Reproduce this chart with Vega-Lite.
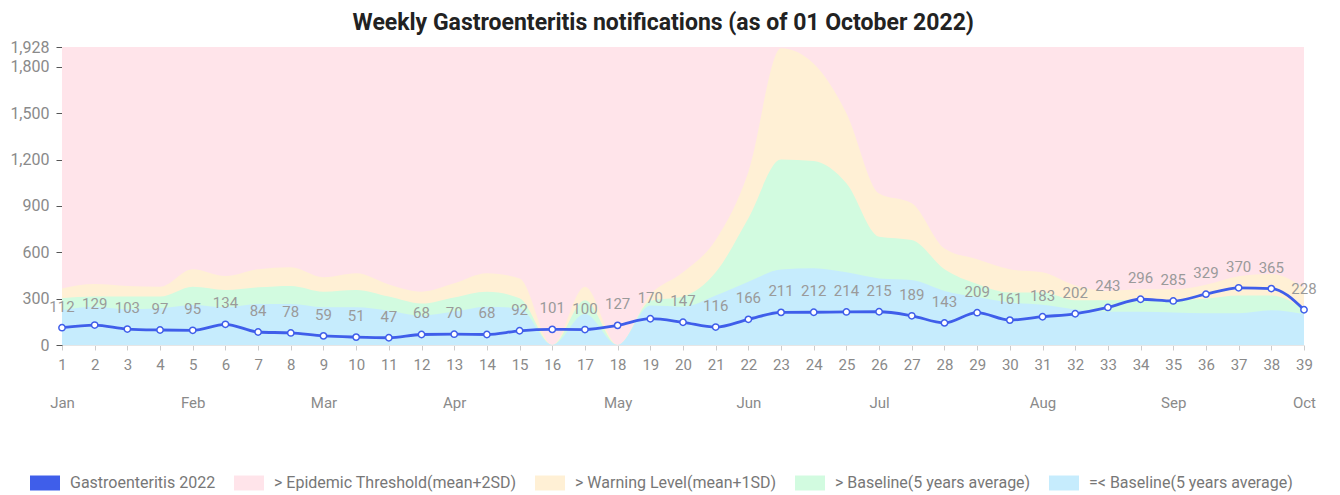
{
  "$schema": "https://vega.github.io/schema/vega-lite/v6.json",
  "autosize": "none",
  "width": 1242,
  "height": 298,
  "padding": {"left": 62, "top": 47, "right": 36, "bottom": 150},
  "background": "#ffffff",
  "title": {
    "text": "Weekly Gastroenteritis notifications (as of 01 October 2022)",
    "font": "Roboto",
    "fontSize": 23,
    "fontWeight": "bold",
    "color": "#222222",
    "anchor": "middle",
    "frame": "bounds",
    "offset": 4
  },
  "data": {
    "values": [
      {"week": 1, "cases": 112, "base": 226, "sd1": 302, "sd2": 366, "top": 1928},
      {"week": 2, "cases": 129, "base": 248, "sd1": 313, "sd2": 394, "top": 1928},
      {"week": 3, "cases": 103, "base": 231, "sd1": 313, "sd2": 381, "top": 1928},
      {"week": 4, "cases": 97, "base": 237, "sd1": 313, "sd2": 377, "top": 1928},
      {"week": 5, "cases": 95, "base": 259, "sd1": 377, "sd2": 490, "top": 1928},
      {"week": 6, "cases": 134, "base": 244, "sd1": 356, "sd2": 446, "top": 1928},
      {"week": 7, "cases": 84, "base": 265, "sd1": 373, "sd2": 490, "top": 1928},
      {"week": 8, "cases": 78, "base": 265, "sd1": 382, "sd2": 503, "top": 1928},
      {"week": 9, "cases": 59, "base": 244, "sd1": 345, "sd2": 438, "top": 1928},
      {"week": 10, "cases": 51, "base": 244, "sd1": 356, "sd2": 464, "top": 1928},
      {"week": 11, "cases": 47, "base": 222, "sd1": 313, "sd2": 392, "top": 1928},
      {"week": 12, "cases": 68, "base": 190, "sd1": 268, "sd2": 345, "top": 1928},
      {"week": 13, "cases": 70, "base": 216, "sd1": 308, "sd2": 399, "top": 1928},
      {"week": 14, "cases": 68, "base": 248, "sd1": 345, "sd2": 464, "top": 1928},
      {"week": 15, "cases": 92, "base": 237, "sd1": 302, "sd2": 431, "top": 1928},
      {"week": 16, "cases": 101, "base": 0, "sd1": 0, "sd2": 0, "top": 1928},
      {"week": 17, "cases": 100, "base": 200, "sd1": 290, "sd2": 377, "top": 1928},
      {"week": 18, "cases": 127, "base": 0, "sd1": 0, "sd2": 0, "top": 1928},
      {"week": 19, "cases": 170, "base": 255, "sd1": 285, "sd2": 325, "top": 1928},
      {"week": 20, "cases": 147, "base": 248, "sd1": 313, "sd2": 470, "top": 1928},
      {"week": 21, "cases": 116, "base": 320, "sd1": 470, "sd2": 680, "top": 1928},
      {"week": 22, "cases": 166, "base": 410, "sd1": 820, "sd2": 1120, "top": 1928},
      {"week": 23, "cases": 211, "base": 488, "sd1": 1200, "sd2": 1920, "top": 1928},
      {"week": 24, "cases": 212, "base": 497, "sd1": 1190, "sd2": 1820, "top": 1928},
      {"week": 25, "cases": 214, "base": 470, "sd1": 1046, "sd2": 1500, "top": 1928},
      {"week": 26, "cases": 215, "base": 431, "sd1": 700, "sd2": 980, "top": 1928},
      {"week": 27, "cases": 189, "base": 420, "sd1": 679, "sd2": 917, "top": 1928},
      {"week": 28, "cases": 143, "base": 350, "sd1": 490, "sd2": 625, "top": 1928},
      {"week": 29, "cases": 209, "base": 310, "sd1": 395, "sd2": 555, "top": 1928},
      {"week": 30, "cases": 161, "base": 275, "sd1": 340, "sd2": 490, "top": 1928},
      {"week": 31, "cases": 183, "base": 260, "sd1": 340, "sd2": 470, "top": 1928},
      {"week": 32, "cases": 202, "base": 230, "sd1": 290, "sd2": 385, "top": 1928},
      {"week": 33, "cases": 243, "base": 215, "sd1": 290, "sd2": 350, "top": 1928},
      {"week": 34, "cases": 296, "base": 215, "sd1": 295, "sd2": 360, "top": 1928},
      {"week": 35, "cases": 285, "base": 210, "sd1": 290, "sd2": 360, "top": 1928},
      {"week": 36, "cases": 329, "base": 205, "sd1": 300, "sd2": 390, "top": 1928},
      {"week": 37, "cases": 370, "base": 205, "sd1": 320, "sd2": 445, "top": 1928},
      {"week": 38, "cases": 365, "base": 225, "sd1": 320, "sd2": 460, "top": 1928},
      {"week": 39, "cases": 228, "base": 200, "sd1": 230, "sd2": 370, "top": 1928}
    ]
  },
  "encoding": {
    "x": {
      "field": "week",
      "type": "quantitative",
      "scale": {"domain": [1, 39], "nice": false, "zero": false},
      "axis": {
        "title": null,
        "values": [1,2,3,4,5,6,7,8,9,10,11,12,13,14,15,16,17,18,19,20,21,22,23,24,25,26,27,28,29,30,31,32,33,34,35,36,37,38,39],
        "labelExpr": "indexof([1,5,9,13,18,22,26,31,35,39], datum.value) >= 0 ? [datum.label, ['Jan','Feb','Mar','Apr','May','Jun','Jul','Aug','Sep','Oct'][indexof([1,5,9,13,18,22,26,31,35,39], datum.value)]] : datum.label",
        "labelLineHeight": 38,
        "labelOverlap": false,
        "labelFlush": false,
        "labelBaseline": "top",
        "labelFont": "Roboto",
        "labelFontSize": 15,
        "labelColor": "#8a8a8a",
        "labelPadding": 7,
        "tickSize": 5,
        "tickColor": "#cccccc",
        "domainColor": "#e6e6e6",
        "grid": false
      }
    },
    "y": {
      "type": "quantitative",
      "scale": {"domain": [0, 1928], "nice": false},
      "axis": {"title": null, "values": [0, 300, 600, 900, 1200, 1500, 1800, 1928], "format": ",.0f", "labelOverlap": false, "labelFont": "Roboto", "labelFontSize": 16, "labelColor": "#8a8a8a", "labelPadding": 7, "tickSize": 6, "tickColor": "#555555", "domain": false, "grid": false}
    }
  },
  "layer": [
    {
      "mark": {"type": "area", "interpolate": "monotone", "opacity": 1},
      "encoding": {
        "y": {"field": "top"},
        "color": {
          "datum": "> Epidemic Threshold(mean+2SD)",
          "type": "nominal",
          "scale": {
            "domain": ["Gastroenteritis 2022", "> Epidemic Threshold(mean+2SD)", "> Warning Level(mean+1SD)", "> Baseline(5 years average)", "=< Baseline(5 years average)"],
            "range": ["#3f5eea", "#ffe4ea", "#fff0d5", "#d2fbe0", "#c6ecfd"]
          },
          "legend": {
            "title": null,
            "orient": "none",
            "direction": "horizontal",
            "legendX": -32,
            "legendY": 421,
            "symbolSize": 900,
            "symbolType": "M-1,-0.5H1V0.5H-1Z",
            "symbolStrokeWidth": 0,
            "labelFont": "Roboto",
            "labelFontSize": 16,
            "labelColor": "#777777",
            "labelLimit": 400,
            "labelOffset": 10,
            "columnPadding": 18
          }
        }
      }
    },
    {
      "mark": {"type": "area", "interpolate": "monotone", "opacity": 1},
      "encoding": {
        "y": {"field": "sd2"},
        "color": {"datum": "> Warning Level(mean+1SD)", "type": "nominal"}
      }
    },
    {
      "mark": {"type": "area", "interpolate": "monotone", "opacity": 1},
      "encoding": {
        "y": {"field": "sd1"},
        "color": {"datum": "> Baseline(5 years average)", "type": "nominal"}
      }
    },
    {
      "mark": {"type": "area", "interpolate": "monotone", "opacity": 1},
      "encoding": {
        "y": {"field": "base"},
        "color": {"datum": "=< Baseline(5 years average)", "type": "nominal"}
      }
    },
    {
      "mark": {"type": "line", "interpolate": "monotone", "strokeWidth": 2.8},
      "encoding": {
        "y": {"field": "cases"},
        "color": {"datum": "Gastroenteritis 2022", "type": "nominal"}
      }
    },
    {
      "mark": {"type": "point", "filled": true, "fill": "#ffffff", "stroke": "#3f5eea", "strokeWidth": 1.5, "size": 40, "opacity": 1},
      "encoding": {
        "y": {"field": "cases"}
      }
    },
    {
      "mark": {"type": "text", "font": "Roboto", "fontSize": 15, "color": "#9a9a9a", "baseline": "middle", "dy": -21},
      "encoding": {
        "y": {"field": "cases"},
        "text": {"field": "cases", "type": "quantitative"}
      }
    }
  ],
  "config": {
    "view": {"stroke": null}
  }
}
